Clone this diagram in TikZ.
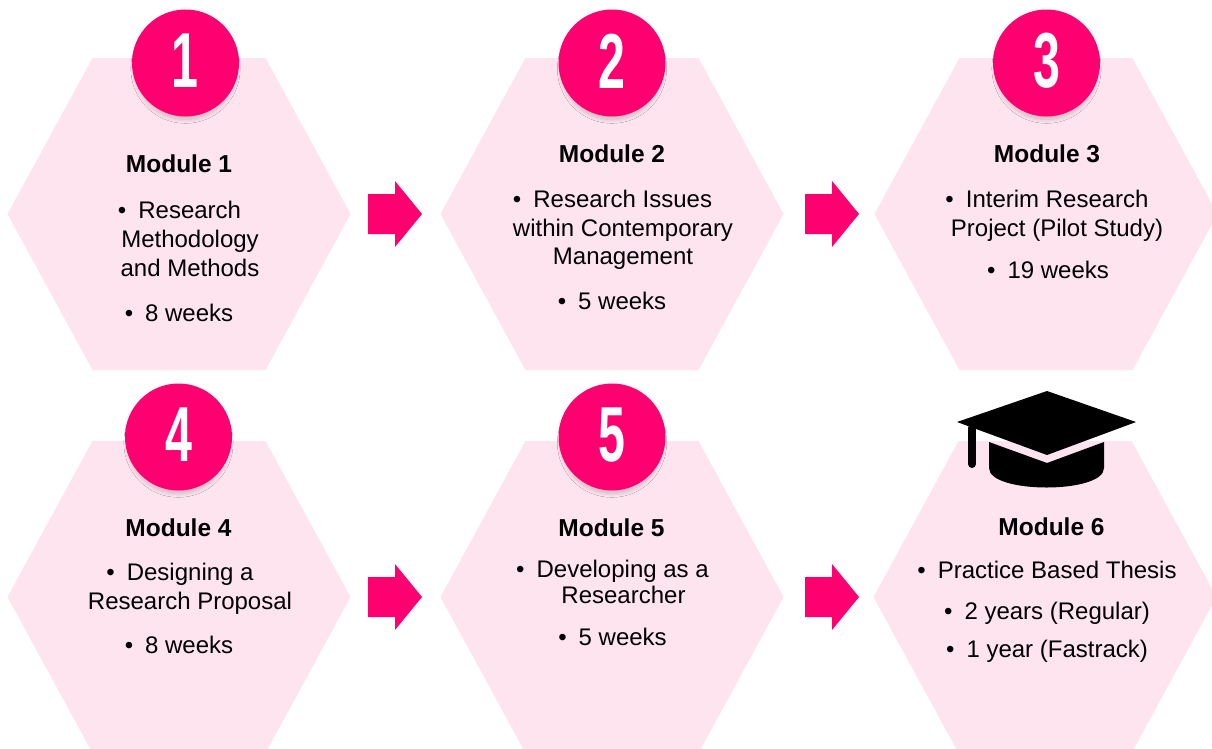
\documentclass[tikz,border=0pt]{standalone}
\usepackage{fontspec}
\setmainfont{Liberation Sans}
\newfontfamily\digitfont{Liberation Sans}
\usetikzlibrary{shadows.blur}
\definecolor{hot}{HTML}{FF0070}
\definecolor{hexpink}{HTML}{FDE4EF}
\newcommand\bul{\textbullet\hspace{0.5em}}
\newcommand\hexa[2]{\fill[hexpink] (#1,#2) ++(-171.5,0) -- ++(85,-156) -- ++(173,0) -- ++(85,156) -- ++(-85,156) -- ++(-173,0) -- cycle;}
\newcommand\blockarrow[2]{\fill[hot] (#1,#2) ++(0,-20) -- ++(27,0) -- ++(0,-13) -- ++(27,33) -- ++(-27,33) -- ++(0,-13) -- ++(-27,0) -- cycle;}
\tikzset{
  ttl/.style={anchor=base, inner sep=0pt, font=\fontsize{24.5}{28}\selectfont\bfseries},
  txt/.style={anchor=base, inner sep=0pt, font=\fontsize{24}{28}\selectfont},
  numcirc/.style={circle, fill=hot, minimum size=107pt, inner sep=0pt,
    blur shadow={shadow xshift=0pt, shadow yshift=-6pt, shadow scale=0.95, shadow blur radius=4pt, shadow blur steps=8, shadow opacity=20}},
  digit/.style={inner sep=0pt, text=white, font=\digitfont\fontsize{78}{78}\selectfont\bfseries}
}
\begin{document}
\begin{tikzpicture}[x=1pt,y=-1pt]
\clip (0,0) rectangle (1212,748);
\fill[white] (0,0) rectangle (1212,748);
% hexagons
\hexa{179}{214}
\hexa{612}{214}
\hexa{1046}{214}
\hexa{179}{597}
\hexa{612}{597}
\hexa{1045}{597}
% arrows
\blockarrow{368}{214}
\blockarrow{805}{214}
\blockarrow{368}{597}
\blockarrow{805}{597}
% number circles
\node[numcirc] (c1) at (185.5,63) {};
\node[numcirc] (c2) at (612,63) {};
\node[numcirc] (c3) at (1046.5,63) {};
\node[numcirc] (c4) at (178.5,437) {};
\node[numcirc] (c5) at (612,437) {};
\node[digit] (d1) at (184.5,61) {\scalebox{0.62}[1]{1}};
\node[digit] (d2) at (612,61) {\scalebox{0.62}[1]{2}};
\node[digit] (d3) at (1046.5,61) {\scalebox{0.62}[1]{3}};
\node[digit] (d4) at (178.5,435) {\scalebox{0.62}[1]{4}};
\node[digit] (d5) at (612,435) {\scalebox{0.62}[1]{5}};
% graduation cap
\fill[black] (957,422) -- (1047,391) -- (1136,422) -- (1047,455) -- cycle;
\fill[black] (989,442) -- (1047,463) -- (1104,442) -- (1104,468) .. controls (1104,494) and (989,494) .. (989,468) -- cycle;
\draw[black, line width=8pt, line cap=round] (972,428) -- (972,464);
% module 1
\node[ttl] (t1) at (179,172) {Module 1};
\node[txt] (t1a) at (179.5,218) {\bul Research};
\node[txt] (t1b) at (190,247) {Methodology};
\node[txt] (t1c) at (190,276) {and Methods};
\node[txt] (t1d) at (179,321) {\bul 8 weeks};
% module 2
\node[ttl] (t2) at (612,162) {Module 2};
\node[txt] (t2a) at (612.5,207) {\bul Research Issues};
\node[txt] (t2b) at (623,236) {within Contemporary};
\node[txt] (t2c) at (623,264) {Management};
\node[txt] (t2d) at (612,309) {\bul 5 weeks};
% module 3
\node[ttl] (t3) at (1047,162) {Module 3};
\node[txt] (t3a) at (1047,207) {\bul Interim Research};
\node[txt] (t3b) at (1057,236) {Project (Pilot Study)};
\node[txt] (t3c) at (1048,278) {\bul 19 weeks};
% module 4
\node[ttl] (t4) at (178.5,536) {Module 4};
\node[txt] (t4a) at (180,580) {\bul Designing a};
\node[txt] (t4b) at (190,609) {Research Proposal};
\node[txt] (t4c) at (179,653) {\bul 8 weeks};
% module 5
\node[ttl] (t5) at (611.5,536) {Module 5};
\node[txt] (t5a) at (612.5,577) {\bul Developing as a};
\node[txt] (t5b) at (623.5,603) {Researcher};
\node[txt] (t5c) at (612.5,645) {\bul 5 weeks};
% module 6
\node[ttl] (t6) at (1051.5,535) {Module 6};
\node[txt] (t6a) at (1047,578) {\bul Practice Based Thesis};
\node[txt] (t6b) at (1047,619) {\bul 2 years (Regular)};
\node[txt] (t6c) at (1047,657) {\bul 1 year (Fastrack)};
\end{tikzpicture}
\end{document}
